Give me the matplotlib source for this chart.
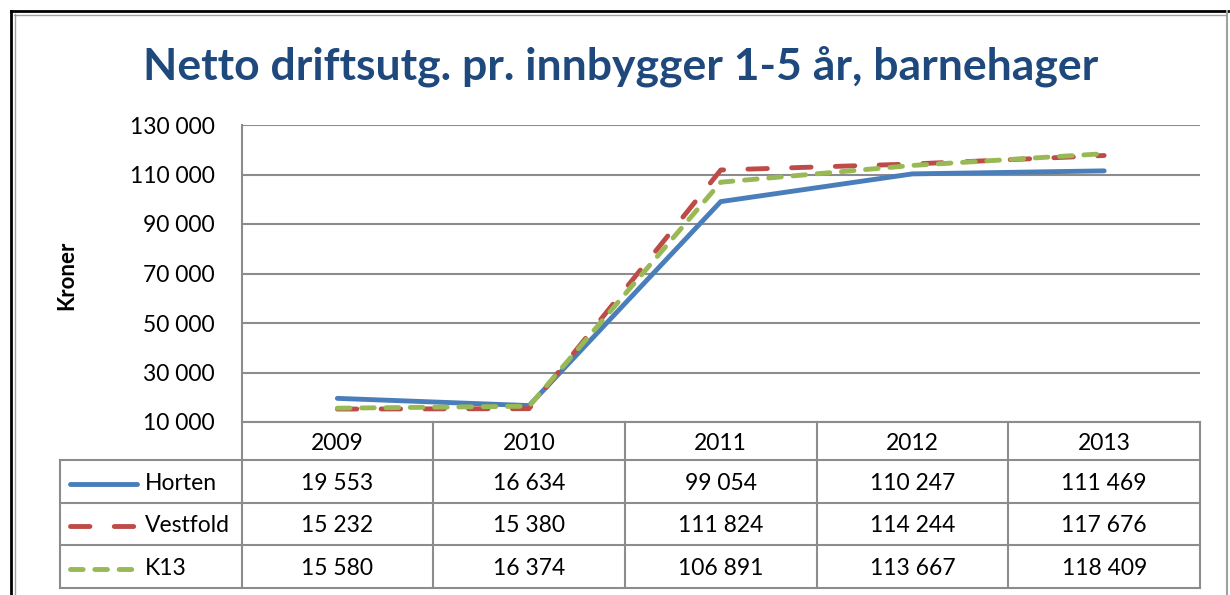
import matplotlib
matplotlib.use("Agg")
import matplotlib.pyplot as plt
from matplotlib.lines import Line2D
import matplotlib.transforms as mtransforms

years = ["2009", "2010", "2011", "2012", "2013"]
horten = [19553, 16634, 99054, 110247, 111469]
vestfold = [15232, 15380, 111824, 114244, 117676]
k13 = [15580, 16374, 106891, 113667, 118409]
series_names = ["Horten", "Vestfold", "K13"]
yticks = [10000, 30000, 50000, 70000, 90000, 110000, 130000]
title = "Netto driftsutg. pr. innbygger 1-5 år, barnehager"
ylabel = "Kroner"

W, H = 1230, 595
DPI = 100
FONT = "Lato"
FS = 16.5

colors = ["#4A7EBB", "#BE4B48", "#98B954"]
LW = 3.5
styles = [
    dict(linestyle="-"),
    dict(linestyle=(0, (4.0, 5.0))),
    dict(linestyle=(0, (2.6, 2.4))),
]

def fmt(v):
    return f"{v:,}".replace(",", " ")

fig = plt.figure(figsize=(W / DPI, H / DPI), dpi=DPI)

def fx(px):
    return px / W

def fy(py):
    return 1 - py / H

# plot area
L, R, T, B = 241.5, 1200, 125, 422
ax = fig.add_axes([fx(L), fy(B), fx(R) - fx(L), fy(T) - fy(B)])
ax.set_xlim(-0.5, len(years) - 0.5)
ax.set_ylim(yticks[0], yticks[-1])
ax.set_yticks(yticks)
ax.set_yticklabels([fmt(v) for v in yticks], fontsize=FS, family=FONT)
ax.tick_params(axis="y", length=0, pad=19)
ax.set_xticks([])
for s in ["top", "right"]:
    ax.spines[s].set_visible(False)
for s in ["left", "bottom"]:
    ax.spines[s].set_color("#8C8C8C")
    ax.spines[s].set_linewidth(1.5)
ax.yaxis.grid(True, color="#8C8C8C", linewidth=1.5)
ax.set_axisbelow(True)

x = list(range(len(years)))
data = [horten, vestfold, k13]
for vals, c, st in zip(data, colors, styles):
    ax.plot(x, vals, color=c, linewidth=LW, solid_capstyle="round",
            dash_capstyle="round", solid_joinstyle="round", **st)

# title & y label
fig.text(fx(621), fy(66), title, ha="center", va="center", fontsize=32,
         fontweight="bold", color="#1F497D", family=FONT)
fig.text(fx(67), fy(275), ylabel, ha="center", va="center", rotation=90,
         fontsize=16, fontweight="bold", family=FONT)

# data table below the axes
trans = mtransforms.blended_transform_factory(ax.transData, fig.transFigure)
gray = "#8C8C8C"
row_y = [422, 460, 503, 545, 588]
leg_left = 60
for yy in row_y[1:]:
    fig.add_artist(Line2D([fx(leg_left), fx(R)], [fy(yy), fy(yy)], color=gray, lw=1.5))
edges = [-0.5 + k for k in range(len(years) + 1)]
for e in edges:
    fig.add_artist(Line2D([e, e], [fy(row_y[0]), fy(row_y[-1])], color=gray, lw=1.5,
                          transform=trans))
fig.add_artist(Line2D([fx(leg_left), fx(leg_left)], [fy(row_y[1]), fy(row_y[-1])],
                      color=gray, lw=1.5))

for xi, yr in zip(x, years):
    fig.text(xi, fy((row_y[0] + row_y[1]) / 2 + 2), yr, transform=trans, ha="center",
             va="center", fontsize=FS, family=FONT)
for r, (name, vals, c, st) in enumerate(zip(series_names, data, colors, styles)):
    yc = fy((row_y[r + 1] + row_y[r + 2]) / 2 + 2)
    fig.add_artist(Line2D([fx(70), fx(137)], [yc, yc], color=c, lw=LW,
                          solid_capstyle="round", dash_capstyle="round", **st))
    fig.text(fx(145), yc, name, ha="left", va="center", fontsize=FS, family=FONT)
    for xi, v in zip(x, vals):
        fig.text(xi, yc, fmt(v), transform=trans, ha="center", va="center",
                 fontsize=FS, family=FONT)

# outer border
fig.add_artist(Line2D([fx(11), fx(11)], [fy(11), 0], color="black", lw=2))
fig.add_artist(Line2D([fx(11), fx(1228)], [fy(11), fy(11)], color="black", lw=2))
fig.add_artist(Line2D([fx(14.5), fx(14.5)], [fy(14), 0], color="#A0A0A0", lw=1))
fig.add_artist(Line2D([fx(14), fx(1226)], [fy(14.5), fy(14.5)], color="#A0A0A0", lw=1))
fig.add_artist(Line2D([fx(1227), fx(1227)], [fy(11), 0], color="#A0A0A0", lw=1.5))

fig.savefig("out.png", dpi=DPI)
